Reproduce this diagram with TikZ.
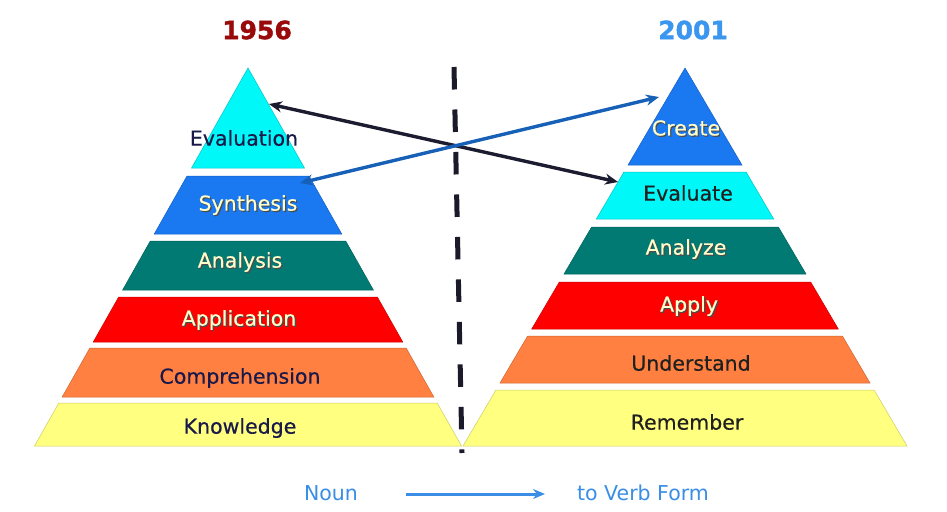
\documentclass[tikz,border=0pt]{standalone}
\usepackage{fontspec}
\setmainfont{DejaVu Sans}
\newfontfamily\tierfont{DejaVu Sans}[FakeBold=0.5]
\newfontfamily\titlefont{DejaVu Sans Bold}[FakeBold=1.4]
\usetikzlibrary{arrows.meta}

\definecolor{tierCyan}{HTML}{00F8F8}
\definecolor{tierBlue}{HTML}{1A78F0}
\definecolor{tierTeal}{HTML}{007A72}
\definecolor{tierRed}{HTML}{FF0000}
\definecolor{tierOrange}{HTML}{FF8040}
\definecolor{tierYellow}{HTML}{FFFF80}
\definecolor{inkDark}{HTML}{1A1A4A}
\definecolor{inkBlack}{HTML}{202020}
\definecolor{inkLight}{HTML}{FFFFCC}
\definecolor{oldRed}{HTML}{990A0A}
\definecolor{newBlue}{HTML}{3A96EE}
\definecolor{nounBlue}{HTML}{3A8EE6}
\definecolor{linkDark}{HTML}{1C1C30}
\definecolor{linkBlue}{HTML}{1660B8}
\definecolor{divider}{HTML}{1A1A2A}

\tikzset{
  tierlabel/.style={font=\tierfont\fontsize{20.5}{24}\selectfont, inner sep=0pt, anchor=center},
  shadowtext/.style={tierlabel, text=black!70},
  title/.style={font=\titlefont\fontsize{25}{30}\selectfont, inner sep=0pt},
  caption/.style={font=\fontsize{20.5}{24}\selectfont, text=nounBlue, inner sep=0pt},
  link/.style={line width=3.4pt, {Stealth[length=13pt,width=11pt]}-{Stealth[length=13pt,width=11pt]}},
}

% band of a pyramid: apex x, slope, top y, bottom y, colour
\newcommand{\tierband}[5]{%
  \filldraw[fill=#5, draw=#5!80!black, line width=0.5pt]
    ({#1-#2*(#3-68)},#3) -- ({#1+#2*(#3-68)},#3) --
    ({#1+#2*(#4-68)},#4) -- ({#1-#2*(#4-68)},#4) -- cycle;}

% label with a soft drop shadow for light text: x, y, name, text
\newcommand{\lighttier}[4]{%
  \node[shadowtext] at ({#1+1.2},{#2+1.2}) {#4};
  \node[tierlabel, text=inkLight] (#3) at (#1,#2) {#4};}

\begin{document}
\begin{tikzpicture}[x=1pt,y=-1pt]
\useasboundingbox[fill=white] (0,0) rectangle (947,511);

% titles
\node[title, text=oldRed] (y1956) at (257,30) {1956};
\node[title, text=newBlue] (y2001) at (693,30) {2001};

% left pyramid (1956)
\foreach \t/\b/\c in {68/168/tierCyan, 176/234/tierBlue, 241/290/tierTeal,
                      297/342/tierRed, 348/397/tierOrange, 403/446/tierYellow}
  {\tierband{248}{0.5648}{\t}{\b}{\c}}

% right pyramid (2001)
\foreach \t/\b/\c in {68/165/tierBlue, 172/219/tierCyan, 227/274/tierTeal,
                      282/329/tierRed, 336/383/tierOrange, 390/446/tierYellow}
  {\tierband{685}{0.5873}{\t}{\b}{\c}}

% divider
\draw[divider, line width=5pt, dash pattern=on 22.5pt off 20pt] (454,67) -- (462,453);

% labels, 1956
\node[tierlabel, text=inkDark] (evaluation) at (244,138) {Evaluation};
\lighttier{248}{205}{synthesis}{Synthesis}
\lighttier{240}{262}{analysis}{Analysis}
\lighttier{239}{320}{application}{Application}
\node[tierlabel, text=inkDark] (comprehension) at (240,378) {Comprehension};
\node[tierlabel, text=inkDark] (knowledge) at (240,428) {Knowledge};

% labels, 2001
\lighttier{686}{128}{create}{Create}
\node[tierlabel, text=inkBlack] (evaluate) at (688,193) {Evaluate};
\lighttier{686}{249}{analyze}{Analyze}
\lighttier{689}{306}{apply}{Apply}
\node[tierlabel, text=inkBlack] (understand) at (691,363) {Understand};
\node[tierlabel, text=inkBlack] (remember) at (687,422) {Remember};

% link end points on the pyramid edges
\coordinate (evaluationEdge) at (269,104);
\coordinate (evaluateEdge) at (618,182);
\coordinate (synthesisEdge) at (300,183);
\coordinate (createEdge) at (659,97);

\draw[link, linkDark] (evaluationEdge) -- (evaluateEdge);
\draw[link, linkBlue] (synthesisEdge) -- (createEdge);

% bottom caption
\node[caption] (noun) at (331,493) {Noun};
\node[caption] (verbform) at (643,493) {to Verb Form};
\coordinate (nounEnd) at (406,494);
\coordinate (verbStart) at (545,494);
\draw[nounBlue, line width=3pt, -{Stealth[length=12pt,width=10pt]}] (nounEnd) -- (verbStart);
\end{tikzpicture}
\end{document}
